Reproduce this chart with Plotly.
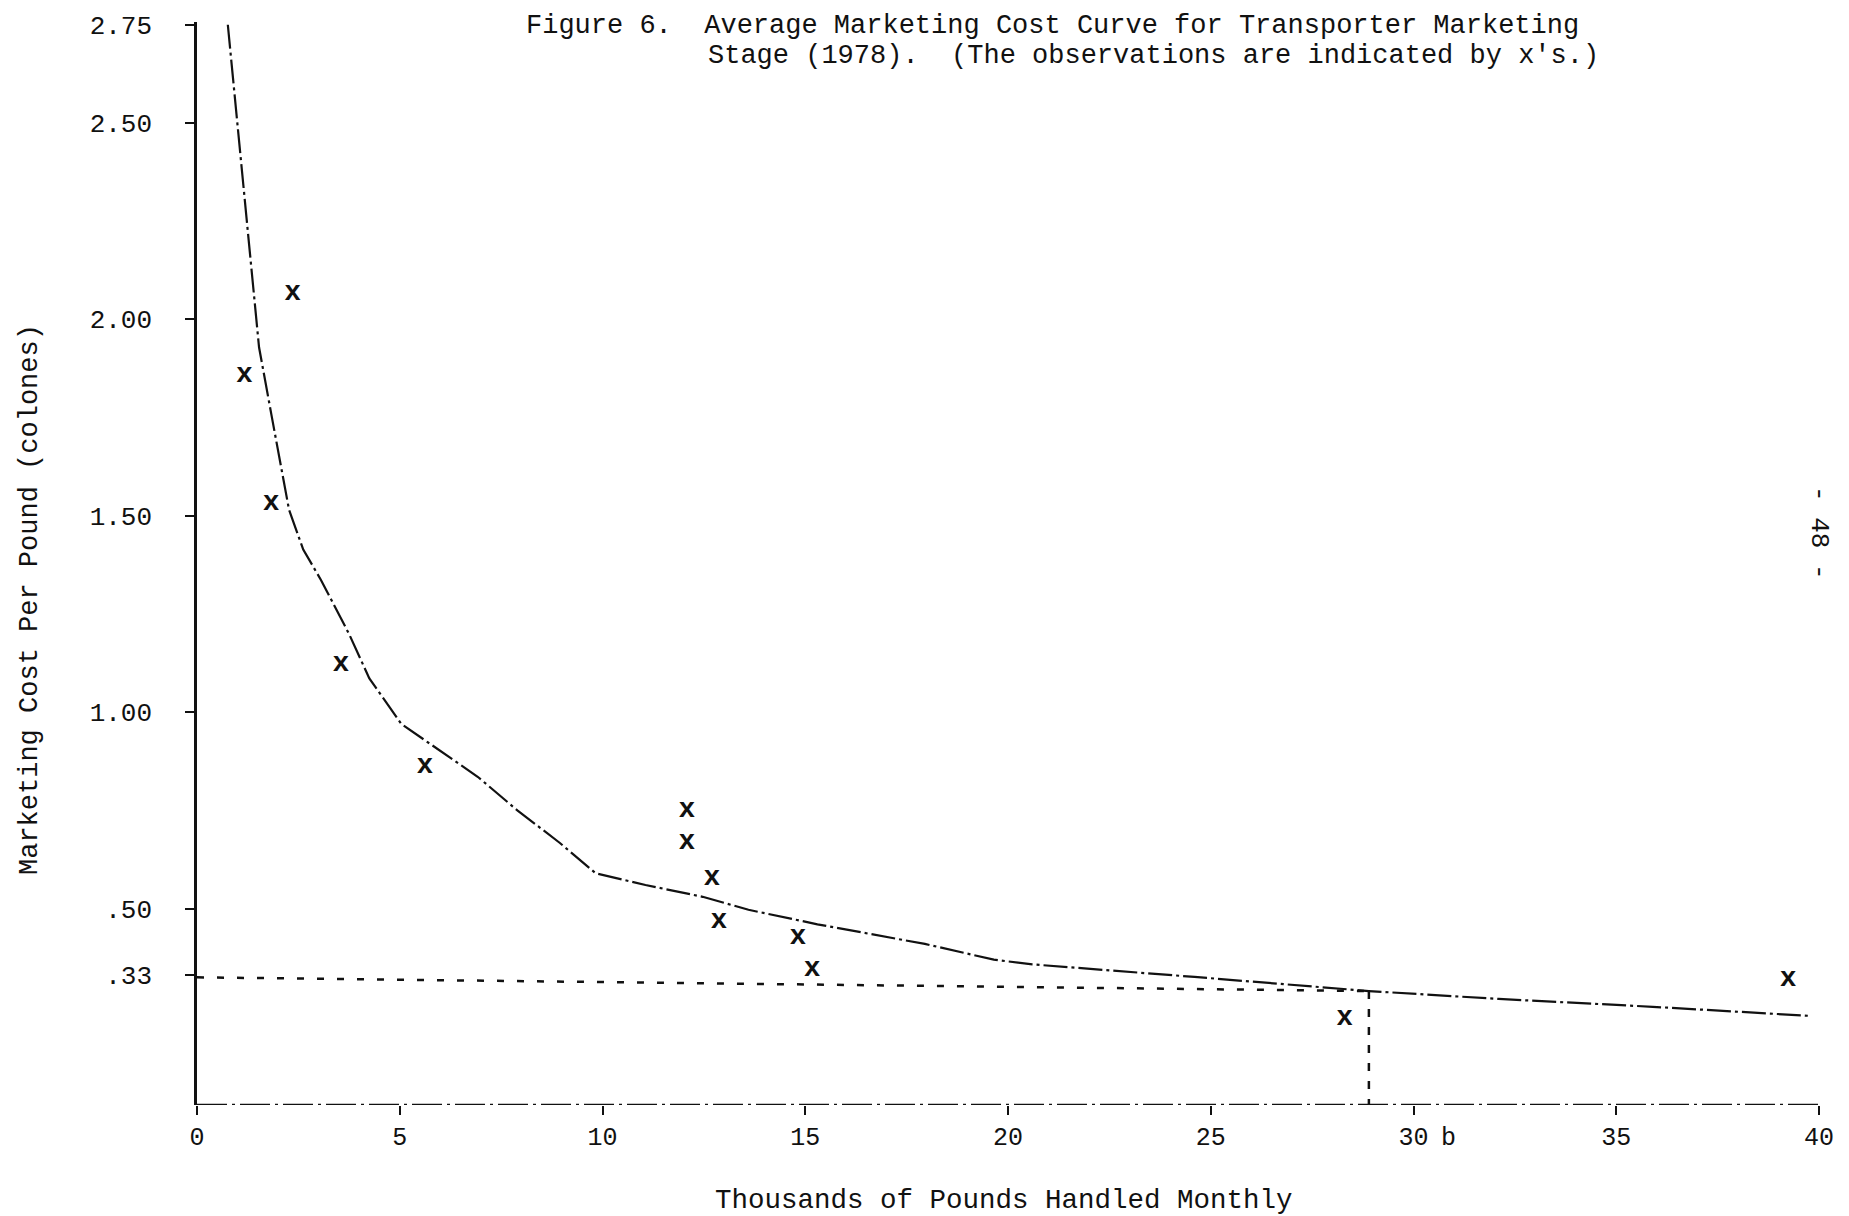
import plotly.graph_objects as go

# ---- data ----
curve_x = [0.76, 1.53, 1.83, 2.27, 2.62, 3.06, 3.75, 4.25, 5.04, 6.93, 7.90, 8.95, 9.83,
           11.06, 12.47, 13.6, 15.3, 17.95, 19.65, 20.6, 24.6, 27.8, 28.9, 32.1, 35.9, 39.75]
curve_y = [2.75, 1.929, 1.76, 1.515, 1.414, 1.336, 1.199, 1.086, 0.97, 0.835, 0.75, 0.667, 0.59,
           0.56, 0.53, 0.497, 0.46, 0.41, 0.37, 0.358, 0.326, 0.30, 0.29, 0.27, 0.25, 0.227]

obs_x = [2.36, 1.17, 1.83, 3.55, 5.62, 12.08, 12.08, 12.70, 12.87, 14.82, 15.17, 28.3, 39.24]
obs_y = [2.067, 1.859, 1.532, 1.123, 0.864, 0.752, 0.670, 0.578, 0.468, 0.428, 0.346, 0.222, 0.321]

cut_x = [0, 28.9]
cut_y = [0.325, 0.29]
drop_x = [28.9, 28.9]
drop_y = [0.29, 0.0]
axis_x = [0, 40]
axis_y = [0, 0]

x_ticks = [0, 5, 10, 15, 20, 25, 30, 35, 40]
x_ticktext = ["0", "5", "10", "15", "20", "25", "30", "35", "40"]
y_ticks = [2.75, 2.5, 2.0, 1.5, 1.0, 0.5, 0.33]
y_ticktext = ["2.75", "2.50", "2.00", "1.50", "1.00", ".50", ".33"]

title1 = "Figure 6.\u00a0\u00a0Average Marketing Cost Curve for Transporter Marketing"
title2 = "Stage (1978).\u00a0\u00a0(The observations are indicated by x's.)"
x_title = "Thousands of Pounds Handled Monthly"
y_title = "Marketing Cost Per Pound (colones)"
page_no = "- 48 -"

FONT = "Liberation Mono"
INK = "#111111"

fig = go.Figure()

fig.add_trace(go.Scatter(x=axis_x, y=axis_y, mode="lines",
                         line=dict(color=INK, width=2.4, dash="30px,5px,3px,5px"),
                         hoverinfo="skip", showlegend=False, cliponaxis=False))
fig.add_trace(go.Scatter(x=curve_x, y=curve_y, mode="lines",
                         line=dict(color=INK, width=2.2, dash="24px,4px,3px,4px"),
                         showlegend=False))
fig.add_trace(go.Scatter(x=cut_x, y=cut_y, mode="lines",
                         line=dict(color=INK, width=2.5, dash="7px,13px"),
                         showlegend=False))
fig.add_trace(go.Scatter(x=drop_x, y=drop_y, mode="lines",
                         line=dict(color=INK, width=2.5, dash="8px,10px"),
                         showlegend=False))
fig.add_trace(go.Scatter(x=obs_x, y=obs_y, mode="text", text=["x"] * len(obs_x),
                         textposition="middle center",
                         textfont=dict(family=FONT, size=28, color=INK, weight="bold"),
                         showlegend=False))

L, R, T, B = 189, 38, 14, 119
W, H = 1849, 1216
pw, ph = W - L - R, H - T - B

def px_to_paper(px, py):
    return (px - L) / pw, (H - B - py) / ph

fig.update_xaxes(range=[0, 40], tickvals=x_ticks, ticktext=x_ticktext,
                 showgrid=False, zeroline=False, showline=False, automargin=False,
                 ticks="outside", ticklen=9, tickwidth=2, tickcolor=INK,
                 tickfont=dict(family=FONT, size=25, color=INK),
                 ticklabelstandoff=0)
fig.update_yaxes(range=[0, 2.757], tickvals=y_ticks, ticktext=y_ticktext,
                 showgrid=False, zeroline=False, showline=True, linecolor=INK, linewidth=2.5,
                 automargin=False,
                 ticks="outside", ticklen=9, tickwidth=2, tickcolor=INK,
                 tickfont=dict(family=FONT, size=26, color=INK),
                 ticklabelstandoff=28, ticklabeloverflow="allow")

ann = []
x1, y1 = px_to_paper(516, 18)
ann.append(dict(text=title1, x=x1, y=y1, xref="paper", yref="paper", xanchor="left",
                yanchor="middle", showarrow=False, font=dict(family=FONT, size=27, color=INK)))
x2, y2 = px_to_paper(698, 48)
ann.append(dict(text=title2, x=x2, y=y2, xref="paper", yref="paper", xanchor="left",
                yanchor="middle", showarrow=False, font=dict(family=FONT, size=27, color=INK)))
xt, yt = px_to_paper(996, 1192)
ann.append(dict(text=x_title, x=xt, y=yt, xref="paper", yref="paper", xanchor="center",
                yanchor="middle", showarrow=False, font=dict(family=FONT, size=27.5, color=INK)))
xy, yy = px_to_paper(22, 592)
ann.append(dict(text=y_title, x=xy, y=yy, xref="paper", yref="paper", xanchor="center",
                yanchor="middle", textangle=-90, showarrow=False,
                font=dict(family=FONT, size=27, color=INK)))
xp, yp = px_to_paper(1811, 525)
ann.append(dict(text=page_no, x=xp, y=yp, xref="paper", yref="paper", xanchor="center",
                yanchor="middle", textangle=90, showarrow=False,
                font=dict(family=FONT, size=26, color=INK)))
xb, yb = px_to_paper(1440, 1130)
ann.append(dict(text="b", x=xb, y=yb, xref="paper", yref="paper", xanchor="center",
                yanchor="middle", showarrow=False, font=dict(family=FONT, size=25, color=INK)))

fig.update_layout(width=W, height=H, margin=dict(l=L, r=R, t=T, b=B, autoexpand=False),
                  paper_bgcolor="white", plot_bgcolor="white",
                  annotations=ann, showlegend=False)

fig.write_html("out.html")
